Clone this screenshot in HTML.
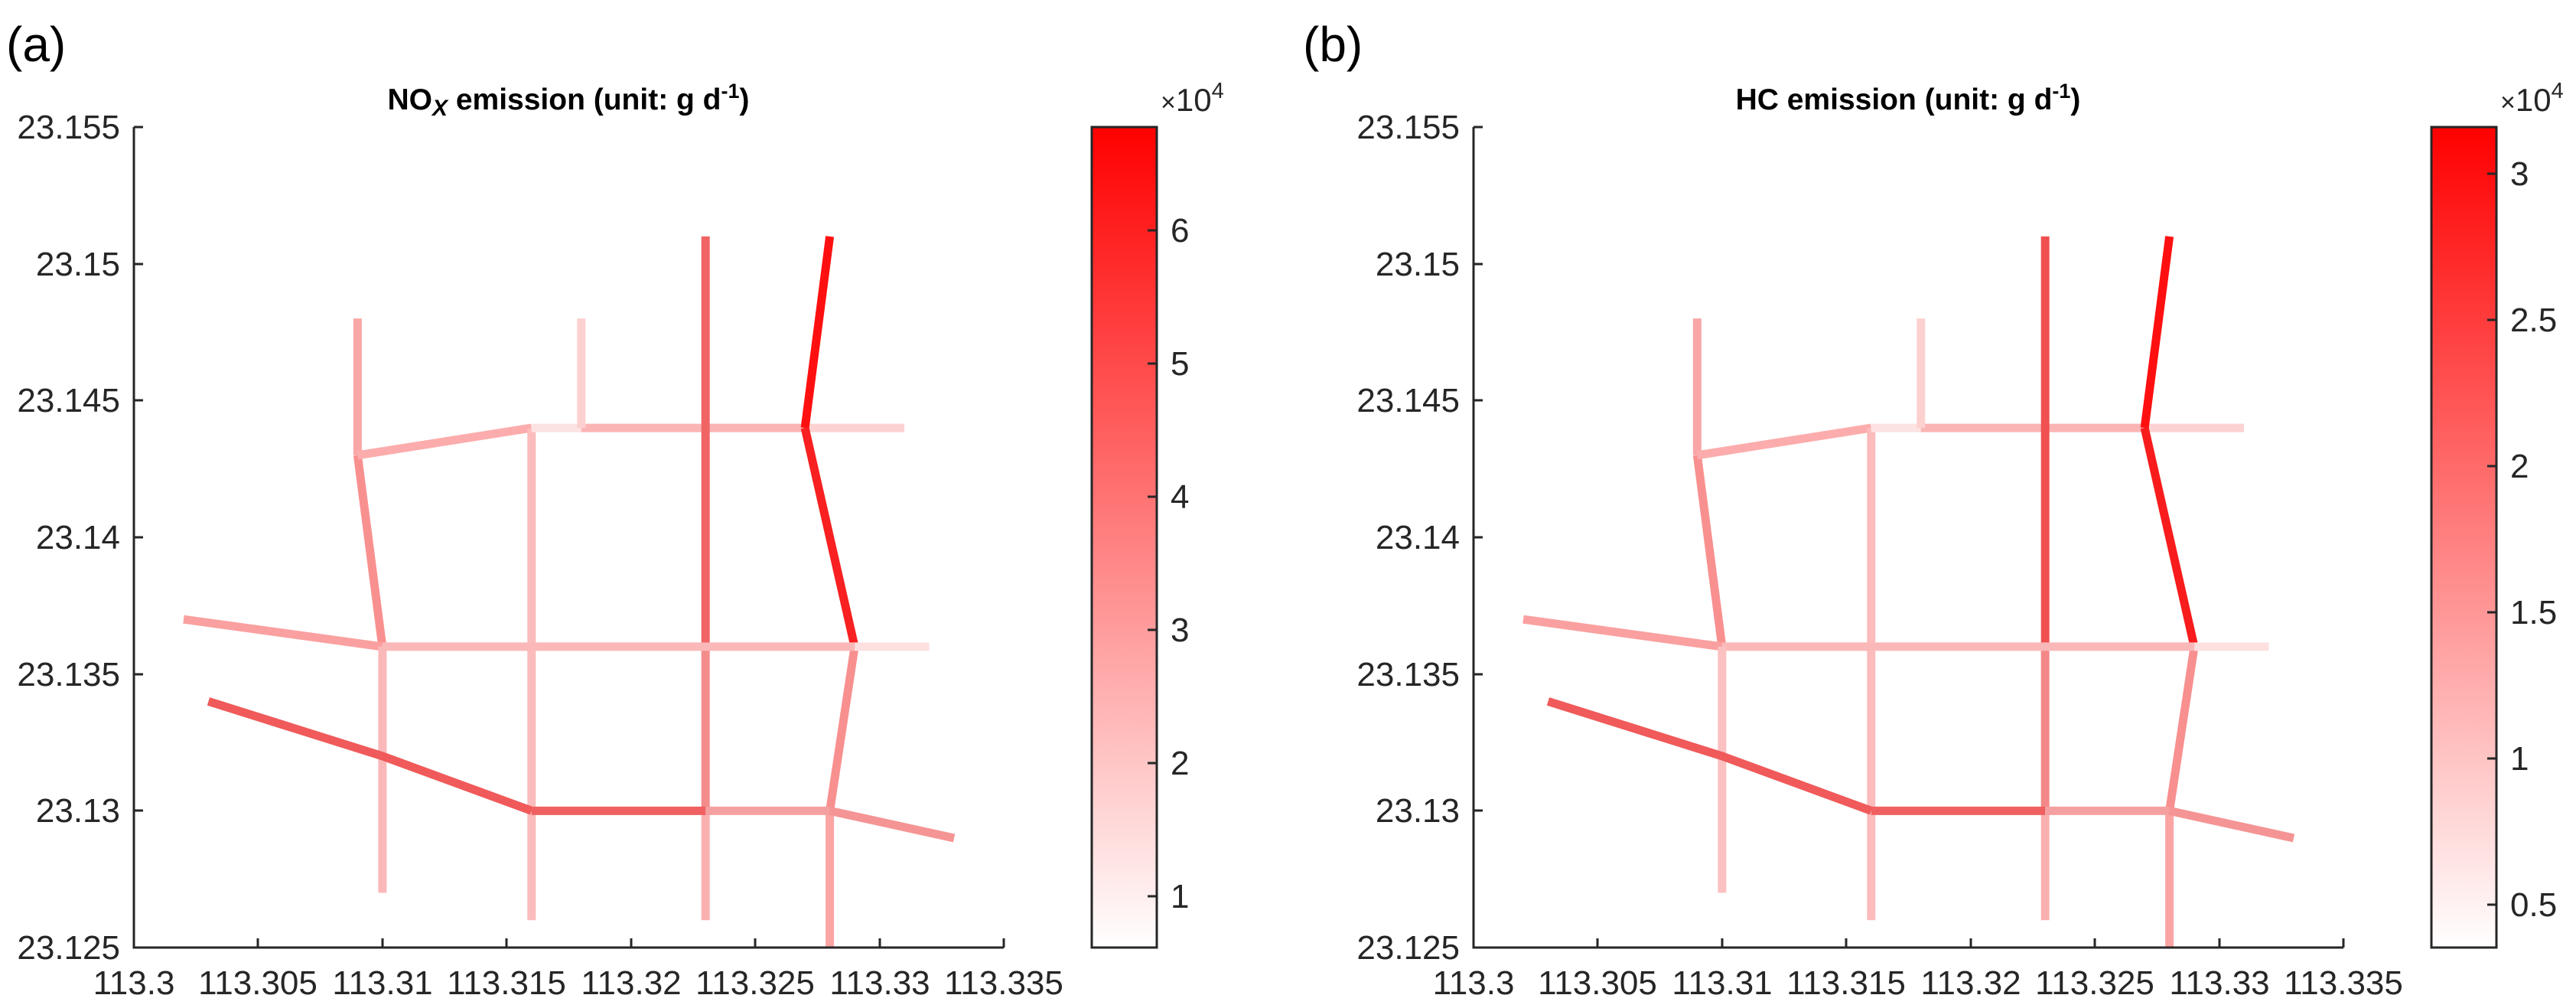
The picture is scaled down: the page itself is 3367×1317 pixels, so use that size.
<!DOCTYPE html>
<html><head><meta charset="utf-8"><style>
html,body{margin:0;padding:0;background:#fff}
svg{display:block}
text{font-family:"Liberation Sans",Arial,sans-serif;fill:#262626}
polyline{stroke-width:11px;vector-effect:non-scaling-stroke}
</style></head><body>
<svg width="3367" height="1317" viewBox="0 0 3367 1317" xmlns="http://www.w3.org/2000/svg">
<defs>
<linearGradient id="cb" x1="0" y1="1" x2="0" y2="0">
<stop offset="0" stop-color="#ffffff"/><stop offset="1" stop-color="#ff0000"/>
</linearGradient>
</defs>

<g>
<text x="8" y="80" font-size="64" style="fill:#000">(a)</text>
<text x="743" y="143" font-size="39" font-weight="bold" text-anchor="middle" style="fill:#000">NO<tspan font-size="30" dy="8" font-style="italic">X</tspan><tspan dy="-8"> emission (unit: g d</tspan><tspan font-size="27" dy="-15">-1</tspan><tspan dy="15">)</tspan></text>
<g transform="translate(175,166) scale(32.486,35.733)" fill="none" stroke-linejoin="round">
<polyline points="9,7 9,12" stroke="#f9a6a6"/>
<polyline points="9,12 10,19" stroke="#f99090"/>
<polyline points="9,12 16,11" stroke="#fcacac"/>
<polyline points="16,11 16,29" stroke="#fcbcbc"/>
<polyline points="16,11 18,11" stroke="#fde2e2"/>
<polyline points="18,11 27,11" stroke="#fbb4b4"/>
<polyline points="27,11 31,11" stroke="#fdd2d2"/>
<polyline points="18,7 18,11" stroke="#fdd0d0"/>
<polyline points="23,4 23,19" stroke="#f06464"/>
<polyline points="23,19 23,25" stroke="#f48c8c"/>
<polyline points="23,25 23,29" stroke="#fab0b0"/>
<polyline points="28,4 27,11" stroke="#ff1010"/>
<polyline points="27,11 29,19" stroke="#f82020"/>
<polyline points="29,19 28,25" stroke="#f89090"/>
<polyline points="28,25 28,30" stroke="#faa4a4"/>
<polyline points="2,18 10,19" stroke="#faa0a0"/>
<polyline points="10,19 29,19" stroke="#fbb8b8"/>
<polyline points="29,19 32,19" stroke="#fde0e0"/>
<polyline points="10,19 10,28" stroke="#fbb8b8"/>
<polyline points="3,21 10,23 16,25" stroke="#f05a5a"/>
<polyline points="16,25 23,25" stroke="#f06060"/>
<polyline points="23,25 28,25" stroke="#f5a0a0"/>
<polyline points="28,25 33,26" stroke="#f59494"/>
</g>
<g stroke="#262626" stroke-width="3" fill="none">
<path d="M175,166 V1238 H1312"/>
<path d="M175,166 h12 M175,345 h12 M175,523 h12 M175,702 h12 M175,881 h12 M175,1059 h12"/>
<path d="M337,1238 v-12 M500,1238 v-12 M662,1238 v-12 M825,1238 v-12 M987,1238 v-12 M1150,1238 v-12 M1312,1238 v-12"/>
</g>
<g font-size="44" text-anchor="end">
<text x="157" y="181">23.155</text><text x="157" y="360">23.15</text><text x="157" y="538">23.145</text>
<text x="157" y="717">23.14</text><text x="157" y="896">23.135</text><text x="157" y="1074">23.13</text><text x="157" y="1253">23.125</text>
</g>
<g font-size="44" text-anchor="middle">
<text x="175" y="1299">113.3</text><text x="337" y="1299">113.305</text><text x="500" y="1299">113.31</text>
<text x="662" y="1299">113.315</text><text x="825" y="1299">113.32</text><text x="987" y="1299">113.325</text>
<text x="1150" y="1299">113.33</text><text x="1312" y="1299">113.335</text>
</g>
<rect x="1427" y="166" width="85" height="1072" fill="url(#cb)" stroke="#262626" stroke-width="3"/>
<text x="1517" y="145" font-size="42"><tspan font-size="34">×</tspan>10<tspan font-size="29" dy="-17">4</tspan></text>
<g stroke="#262626" stroke-width="3"><path d="M1512,301 h-12 M1512,475 h-12 M1512,649 h-12 M1512,823 h-12 M1512,997 h-12 M1512,1171 h-12"/></g>
<g font-size="44"><text x="1530" y="316">6</text><text x="1530" y="490">5</text><text x="1530" y="664">4</text><text x="1530" y="838">3</text><text x="1530" y="1012">2</text><text x="1530" y="1186">1</text></g>
</g>

<g transform="translate(1751,0)">
<text x="-48" y="80" font-size="64" style="fill:#000">(b)</text>
<text x="743" y="143" font-size="39" font-weight="bold" text-anchor="middle" style="fill:#000">HC  emission (unit: g d<tspan font-size="27" dy="-15">-1</tspan><tspan dy="15">)</tspan></text>
<g transform="translate(175,166) scale(32.486,35.733)" fill="none" stroke-linejoin="round">
<polyline points="9,7 9,12" stroke="#f9a6a6"/>
<polyline points="9,12 10,19" stroke="#f99090"/>
<polyline points="9,12 16,11" stroke="#fcacac"/>
<polyline points="16,11 16,29" stroke="#fcbcbc"/>
<polyline points="16,11 18,11" stroke="#fde2e2"/>
<polyline points="18,11 27,11" stroke="#fbb4b4"/>
<polyline points="27,11 31,11" stroke="#fdd2d2"/>
<polyline points="18,7 18,11" stroke="#fdd0d0"/>
<polyline points="23,4 23,19" stroke="#f05050"/>
<polyline points="23,19 23,25" stroke="#f48888"/>
<polyline points="23,25 23,29" stroke="#fab0b0"/>
<polyline points="28,4 27,11" stroke="#ff1010"/>
<polyline points="27,11 29,19" stroke="#f81c1c"/>
<polyline points="29,19 28,25" stroke="#f89090"/>
<polyline points="28,25 28,30" stroke="#faa4a4"/>
<polyline points="2,18 10,19" stroke="#faa0a0"/>
<polyline points="10,19 29,19" stroke="#fbb8b8"/>
<polyline points="29,19 32,19" stroke="#fde0e0"/>
<polyline points="10,19 10,28" stroke="#fbc0c0"/>
<polyline points="3,21 10,23 16,25" stroke="#f05a5a"/>
<polyline points="16,25 23,25" stroke="#f06060"/>
<polyline points="23,25 28,25" stroke="#f5a0a0"/>
<polyline points="28,25 33,26" stroke="#f59494"/>
</g>
<g stroke="#262626" stroke-width="3" fill="none">
<path d="M175,166 V1238 H1312"/>
<path d="M175,166 h12 M175,345 h12 M175,523 h12 M175,702 h12 M175,881 h12 M175,1059 h12"/>
<path d="M337,1238 v-12 M500,1238 v-12 M662,1238 v-12 M825,1238 v-12 M987,1238 v-12 M1150,1238 v-12 M1312,1238 v-12"/>
</g>
<g font-size="44" text-anchor="end">
<text x="157" y="181">23.155</text><text x="157" y="360">23.15</text><text x="157" y="538">23.145</text>
<text x="157" y="717">23.14</text><text x="157" y="896">23.135</text><text x="157" y="1074">23.13</text><text x="157" y="1253">23.125</text>
</g>
<g font-size="44" text-anchor="middle">
<text x="175" y="1299">113.3</text><text x="337" y="1299">113.305</text><text x="500" y="1299">113.31</text>
<text x="662" y="1299">113.315</text><text x="825" y="1299">113.32</text><text x="987" y="1299">113.325</text>
<text x="1150" y="1299">113.33</text><text x="1312" y="1299">113.335</text>
</g>
<rect x="1427" y="166" width="85" height="1072" fill="url(#cb)" stroke="#262626" stroke-width="3"/>
<text x="1517" y="145" font-size="42"><tspan font-size="34">×</tspan>10<tspan font-size="29" dy="-17">4</tspan></text>
<g stroke="#262626" stroke-width="3"><path d="M1512,227 h-12 M1512,418 h-12 M1512,609 h-12 M1512,800 h-12 M1512,991 h-12 M1512,1182 h-12"/></g>
<g font-size="44"><text x="1530" y="242">3</text><text x="1530" y="433">2.5</text><text x="1530" y="624">2</text><text x="1530" y="815">1.5</text><text x="1530" y="1006">1</text><text x="1530" y="1197">0.5</text></g>
</g>
</svg>
</body></html>
